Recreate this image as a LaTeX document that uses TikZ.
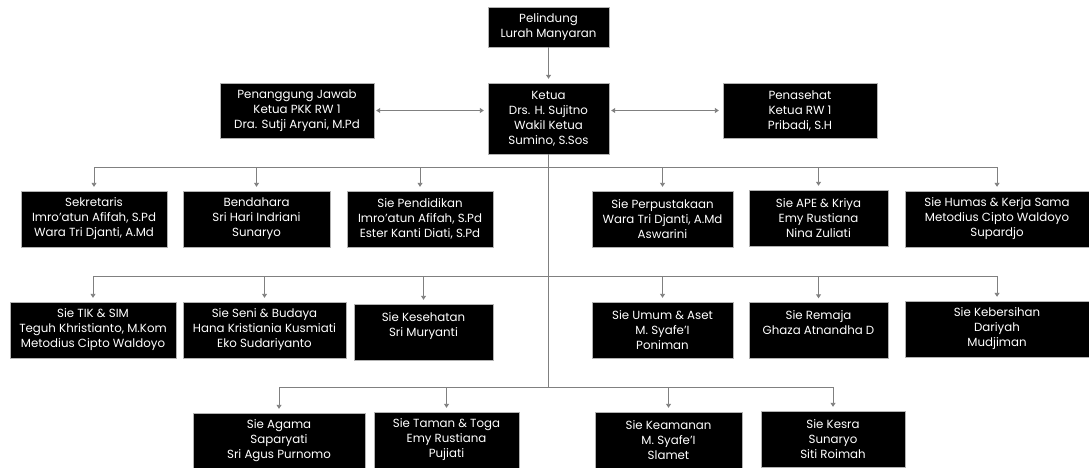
\documentclass[tikz,border=0pt]{standalone}
\usepackage{fontspec}
\setmainfont{Poppins}
\usetikzlibrary{arrows.meta}

\begin{document}
\begin{tikzpicture}[x=1pt,y=-1pt]
\tikzstyle{box} = [rectangle, draw=gray!60, fill=black, text=white, align=center,
inner sep=0pt, minimum height=56, font=\fontsize{11.8}{15}\selectfont]
\tikzstyle{line} = [draw, color=gray, line width=0.9pt, -{Triangle[width=5pt,length=4pt]}, shorten >=4pt];
\tikzstyle{both} = [line, {Triangle[width=5pt,length=4pt]}-{Triangle[width=5pt,length=4pt]}, shorten <=2pt];
\useasboundingbox (0,0) rectangle (1089,468);

% top
\node [box, minimum width=121, minimum height=40] (pelindung) at (548.5,27) {Pelindung\\Lurah Manyaran};
\node [box, minimum width=121, minimum height=71] (ketua) at (548.5,118.5) {Ketua\\Drs. H. Sujitno\\Wakil Ketua\\Sumino, S.Sos};
\node [box, minimum width=154, minimum height=55] (pj) at (297,110.5) {Penanggung Jawab\\Ketua PKK RW 1\\Dra. Sutji Aryani, M.Pd};
\node [box, minimum width=154, minimum height=55] (penasehat) at (800,110.5) {Penasehat\\Ketua RW 1\\Pribadi, S.H};

% row 1
\node [box, minimum width=146] (sekretaris) at (94,219) {Sekretaris\\Imro'atun Afifah, S.Pd\\Wara Tri Djanti, A.Md};
\node [box, minimum width=147] (bendahara) at (256.5,219) {Bendahara\\Sri Hari Indriani\\Sunaryo};
\node [box, minimum width=146] (pendidikan) at (420,219) {Sie Pendidikan\\Imro'atun Afifah, S.Pd\\Ester Kanti Diati, S.Pd};
\node [box, minimum width=141] (perpus) at (662.5,219) {Sie Perpustakaan\\Wara Tri Djanti, A.Md\\Aswarini};
\node [box, minimum width=139] (ape) at (818.5,218) {Sie APE \& Kriya\\Emy Rustiana\\Nina Zuliati};
\node [box, minimum width=184] (humas) at (997,219) {Sie Humas \& Kerja Sama\\Metodius Cipto Waldoyo\\Supardjo};

% row 2
\node [box, minimum width=166] (tik) at (93,330) {Sie TIK \& SIM\\Teguh Khristianto, M.Kom\\Metodius Cipto Waldoyo};
\node [box, minimum width=163] (seni) at (264.5,330) {Sie Seni \& Budaya\\Hana Kristiania Kusmiati\\Eko Sudariyanto};
\node [box, minimum width=139] (kesehatan) at (423.5,332) {Sie Kesehatan\\Sri Muryanti\\ {}};
\node [box, minimum width=141] (umum) at (662.5,330) {Sie Umum \& Aset\\M. Syafe'I\\Poniman};
\node [box, minimum width=139] (remaja) at (818.5,330.5) {Sie Remaja\\Ghaza Atnandha D\\ {}};
\node [box, minimum width=184] (kebersihan) at (997,329) {Sie Kebersihan\\Dariyah\\Mudjiman};

% row 3
\node [box, minimum width=172] (agama) at (279,441) {Sie Agama\\Saparyati\\Sri Agus Purnomo};
\node [box, minimum width=145] (taman) at (446.5,440) {Sie Taman \& Toga\\Emy Rustiana\\Pujiati};
\node [box, minimum width=147] (keamanan) at (668.5,440) {Sie Keamanan\\M. Syafe'I\\Slamet};
\node [box, minimum width=144] (kesra) at (833,439) {Sie Kesra\\Sunaryo\\Siti Roimah};

\coordinate (bus1) at (0,167);
\coordinate (bus2) at (0,276);
\coordinate (bus3) at (0,387);

\tikzstyle{every path}=[line]
\path (pelindung) -- (ketua);
\path [both] (pj.east) -- (pj.east -| ketua.west);
\path [both] (ketua.east |- penasehat.west) -- (penasehat.west);
\path [-, shorten >=0pt] (ketua.south) -- (ketua.south |- bus3);
\foreach \n in {sekretaris,bendahara,pendidikan,perpus,ape,humas}
  \path (ketua.south |- bus1) -| (\n.north);
\foreach \n in {tik,seni,kesehatan,umum,remaja,kebersihan}
  \path (ketua.south |- bus2) -| (\n.north);
\foreach \n in {agama,taman,keamanan,kesra}
  \path (ketua.south |- bus3) -| (\n.north);
\end{tikzpicture}
\end{document}
